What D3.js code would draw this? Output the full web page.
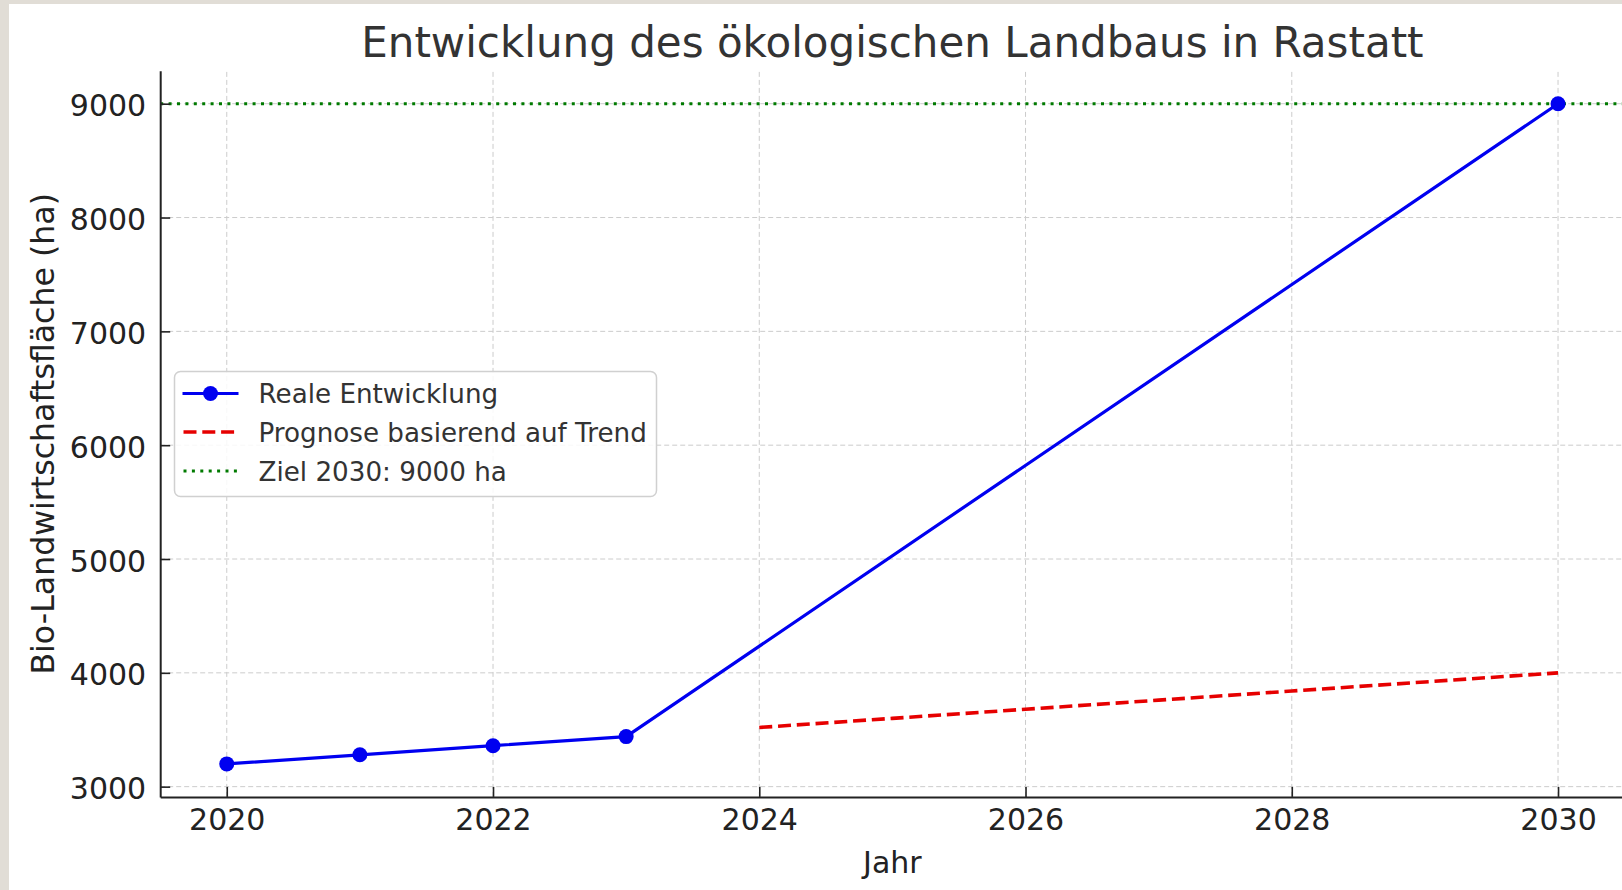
<!DOCTYPE html>
<html>
<head>
<meta charset="utf-8">
<script src="https://cdn.jsdelivr.net/npm/d3@7"></script>
<style>
  html, body { margin: 0; padding: 0; background: #e1ddd6; overflow: hidden; }
  svg { display: block; }
  text { font-family: "DejaVu Sans", sans-serif; }
</style>
</head>
<body>
<div class="chart"></div>
<script>
// data
var realYears = [2020, 2021, 2022, 2023, 2030];
var realValues = [3200, 3280, 3360, 3440, 9000];
var trendYears = [2024, 2025, 2026, 2027, 2028, 2029, 2030];
var trendValues = [3520, 3600, 3680, 3760, 3840, 3920, 4000];
var targetValue = 9000;
var xTicks = [2020, 2022, 2024, 2026, 2028, 2030];
var yTicks = [3000, 4000, 5000, 6000, 7000, 8000, 9000];
var legendLabels = ["Reale Entwicklung", "Prognose basierend auf Trend", "Ziel 2030: 9000 ha"];

var width = 1622, height = 890;

var svg = d3.select(".chart")
    .append("svg")
    .attr("width", width)
    .attr("height", height)

// white panel on the beige page
svg.append("rect")
    .attr("x", 9)
    .attr("y", 4)
    .attr("width", width)
    .attr("height", height)
    .attr("fill", "white")

// domains padded like matplotlib (5%)
var x = d3.scaleLinear().domain([2019.5, 2030.5]).range([160.2, 1624.6]);
var y = d3.scaleLinear().domain([2910, 9290]).range([796.9, 70.7]);

// grid
svg.append("g")
    .selectAll("line")
    .data(xTicks)
    .join("line")
    .attr("x1", d => x(d))
    .attr("x2", d => x(d))
    .attr("y1", y.range()[0])
    .attr("y2", y.range()[1])
    .style("stroke", "#cccccc")
    .style("stroke-width", 1)
    .style("stroke-dasharray", "5,3")

svg.append("g")
    .selectAll("line")
    .data(yTicks)
    .join("line")
    .attr("x1", x.range()[0])
    .attr("x2", x.range()[1])
    .attr("y1", d => y(d))
    .attr("y2", d => y(d))
    .style("stroke", "#cccccc")
    .style("stroke-width", 1)
    .style("stroke-dasharray", "5,3")

// target line
svg.append("line")
    .attr("x1", x.range()[0])
    .attr("x2", x.range()[1])
    .attr("y1", y(targetValue))
    .attr("y2", y(targetValue))
    .style("stroke", "#007a00")
    .style("stroke-width", 3)
    .style("stroke-dasharray", "3,5.4")

// trend forecast
var line = d3.line()
    .x(d => x(d[0]))
    .y(d => y(d[1]))

svg.append("path")
    .datum(d3.zip(trendYears, trendValues))
    .attr("d", line)
    .attr("fill", "none")
    .style("stroke", "#e60000")
    .style("stroke-width", 3.6)
    .style("stroke-dasharray", "13,5.8")

// real development
svg.append("path")
    .datum(d3.zip(realYears, realValues))
    .attr("d", line)
    .attr("fill", "none")
    .style("stroke", "#0000f0")
    .style("stroke-width", 3.2)

svg.append("g")
    .selectAll("circle")
    .data(d3.zip(realYears, realValues))
    .join("circle")
    .attr("cx", d => x(d[0]))
    .attr("cy", d => y(d[1]))
    .attr("r", 7.5)
    .attr("fill", "#0000f0")

// axes
var xAxis = svg.append("g")
    .attr("transform", "translate(0," + y.range()[0] + ")")
    .call(d3.axisBottom(x)
        .tickValues(xTicks)
        .tickFormat(d3.format("d"))
        .tickSizeInner(-10)
        .tickSizeOuter(0)
        .tickPadding(12))

var yAxis = svg.append("g")
    .attr("transform", "translate(" + x.range()[0] + ",0)")
    .call(d3.axisLeft(y)
        .tickValues(yTicks)
        .tickFormat(d3.format("d"))
        .tickSizeInner(-10)
        .tickSizeOuter(0)
        .tickPadding(14))

svg.selectAll(".domain")
    .style("stroke", "#222")
    .style("stroke-width", 2)

svg.selectAll(".tick line")
    .style("stroke", "#222")
    .style("stroke-width", 1.6)

svg.selectAll(".tick text")
    .style("font-size", "30px")
    .attr("font-family", "DejaVu Sans")
    .attr("fill", "#222")

yAxis.selectAll(".tick text").attr("dy", "0.4em")

// title and axis labels
svg.append("text")
    .attr("x", (x.range()[0] + x.range()[1]) / 2)
    .attr("y", 57)
    .attr("text-anchor", "middle")
    .text("Entwicklung des ökologischen Landbaus in Rastatt")
    .style("font-size", "42px")
    .attr("fill", "#333")

svg.append("text")
    .attr("x", (x.range()[0] + x.range()[1]) / 2)
    .attr("y", 873)
    .attr("text-anchor", "middle")
    .text("Jahr")
    .style("font-size", "30px")
    .attr("fill", "#222")

svg.append("text")
    .attr("transform", "translate(53.5," + (y.range()[0] + y.range()[1]) / 2 + ") rotate(-90)")
    .attr("text-anchor", "middle")
    .text("Bio-Landwirtschaftsfläche (ha)")
    .style("font-size", "31.6px")
    .attr("fill", "#222")

// legend
var legend = svg.append("g")
    .attr("transform", "translate(174.5,371.5)")

legend.append("rect")
    .attr("width", 482)
    .attr("height", 125)
    .attr("rx", 6)
    .attr("fill", "white")
    .attr("fill-opacity", 0.85)
    .style("stroke", "#d0d0d0")
    .style("stroke-width", 1.5)

var rows = [22, 60.5, 99.5];

legend.append("line")
    .attr("x1", 8).attr("x2", 64)
    .attr("y1", rows[0]).attr("y2", rows[0])
    .style("stroke", "#0000f0")
    .style("stroke-width", 3.2)
legend.append("circle")
    .attr("cx", 36).attr("cy", rows[0])
    .attr("r", 7.5)
    .attr("fill", "#0000f0")

legend.append("line")
    .attr("x1", 9).attr("x2", 64)
    .attr("y1", rows[1]).attr("y2", rows[1])
    .style("stroke", "#e60000")
    .style("stroke-width", 3.6)
    .style("stroke-dasharray", "13,5.8")

legend.append("line")
    .attr("x1", 9).attr("x2", 64)
    .attr("y1", rows[2]).attr("y2", rows[2])
    .style("stroke", "#007a00")
    .style("stroke-width", 3)
    .style("stroke-dasharray", "3,5.4")

legend.selectAll("text.label")
    .data(legendLabels)
    .join("text")
    .attr("class", "label")
    .attr("x", 84)
    .attr("y", (d, i) => rows[i] + 9.5)
    .text(d => d)
    .style("font-size", "26.2px")
    .attr("fill", "#333")
</script>
</body>
</html>
